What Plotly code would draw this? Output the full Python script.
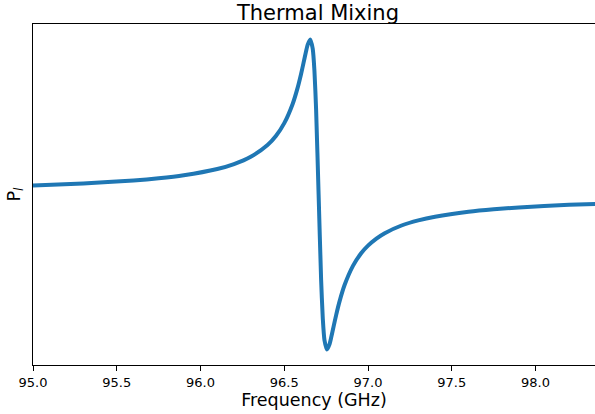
import plotly.graph_objects as go

# Frequency (GHz) sample points
freq = [95.0, 95.3, 95.6, 95.75, 95.9, 96.1, 96.2, 96.3, 96.4, 96.45, 96.5, 96.55,
        96.58, 96.6, 96.615, 96.63, 96.64, 96.655, 96.67, 96.68, 96.69, 96.705,
        96.72, 96.73, 96.74, 96.755, 96.77, 96.78, 96.795, 96.81, 96.83, 96.86,
        96.91, 96.96, 97.0, 97.05, 97.1, 97.2, 97.3, 97.4, 97.6, 97.75, 97.9,
        98.2, 98.4]
# Polarization signal (arbitrary units, peak = 1)
p_l = [0.0586, 0.0711, 0.0903, 0.1044, 0.1238, 0.1642, 0.1961, 0.2432, 0.3194,
       0.3776, 0.4604, 0.5843, 0.6897, 0.7763, 0.849, 0.923, 0.9665, 1.0,
       0.9396, 0.8, 0.5505, 0.0, -0.5505, -0.8, -0.9396, -1.0, -0.9665,
       -0.923, -0.849, -0.7763, -0.6897, -0.5843, -0.4604, -0.3776, -0.3295,
       -0.284, -0.2492, -0.2, -0.1669, -0.1432, -0.1114, -0.0955, -0.0835,
       -0.0668, -0.0589]

xticks = [95.0, 95.5, 96.0, 96.5, 97.0, 97.5, 98.0]
xtick_text = ["95.0", "95.5", "96.0", "96.5", "97.0", "97.5", "98.0"]

W, H = 595, 414
ml, mr, mt, mb = 33, 0, 24, 49
pw = W - ml - mr

fig = go.Figure()
fig.add_trace(go.Scatter(x=freq, y=p_l, mode="lines",
                         line=dict(color="#1f77b4", width=4, shape="spline", smoothing=0.6),
                         showlegend=False))

fig.update_layout(
    width=W, height=H,
    margin=dict(l=ml, r=mr, t=mt, b=mb),
    paper_bgcolor="white", plot_bgcolor="white",
    font=dict(family="DejaVu Sans", color="black"),
    title=dict(text="Thermal Mixing", font=dict(size=21, color="black"),
               x=318 / W, xanchor="center", xref="container",
               y=1 - 20 / H, yanchor="bottom", yref="container", pad=dict(t=0, b=0)),
    xaxis=dict(range=[95.0, 98.355], tickvals=xticks, ticktext=xtick_text,
               showline=True, linecolor="black", linewidth=1, mirror=True,
               ticks="outside", ticklen=5, tickcolor="black", tickwidth=1,
               tickfont=dict(size=13), showgrid=False, zeroline=False,
               title=dict(text="Frequency (GHz)", font=dict(size=17.5), standoff=4)),
    yaxis=dict(range=[-1.1, 1.1], showline=True, linecolor="black", linewidth=1,
               mirror=False, showticklabels=False, ticks="", showgrid=False,
               zeroline=False),
)

fig.add_annotation(text="P<sub><i>l</i></sub>", xref="paper", yref="paper",
                   x=(15 - ml) / pw, y=0.5, xanchor="center", yanchor="middle",
                   textangle=-90, showarrow=False, font=dict(size=17.5, color="black"))

fig.write_html("out.html")
